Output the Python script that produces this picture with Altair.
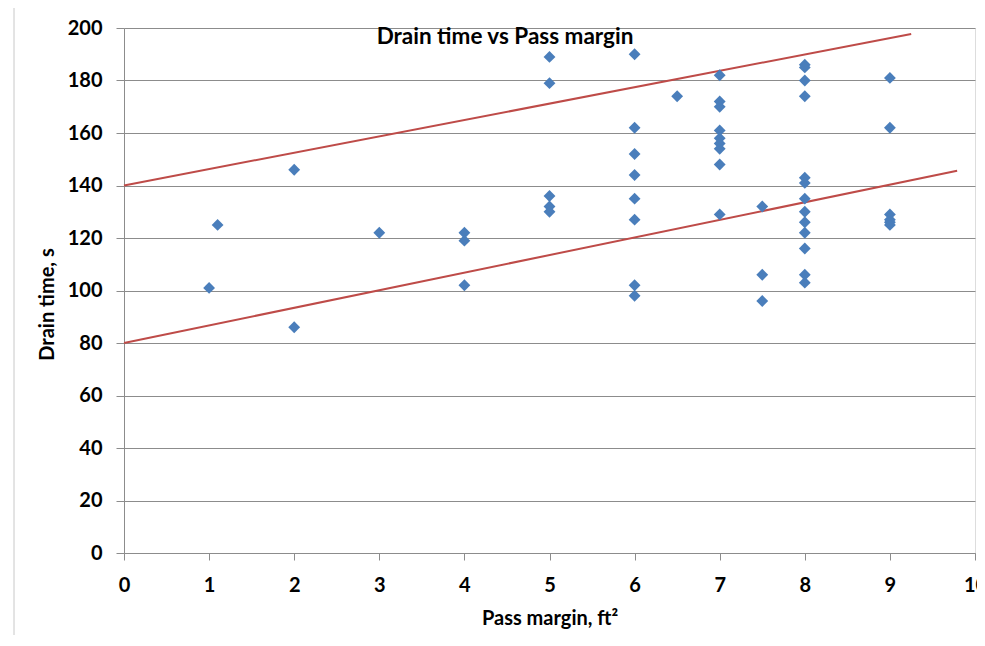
import altair as alt
import pandas as pd

pass_margin = [1, 1.1, 2, 2, 3, 4, 4, 4,
               5, 5, 5, 5, 5,
               6, 6, 6, 6, 6, 6, 6, 6,
               6.5,
               7, 7, 7, 7, 7, 7, 7, 7, 7,
               7.5, 7.5, 7.5,
               8, 8, 8, 8, 8, 8, 8, 8, 8, 8, 8, 8, 8,
               9, 9, 9, 9, 9, 9]
drain_time = [101, 125, 146, 86, 122, 122, 119, 102,
              189, 179, 136, 132, 130,
              190, 162, 152, 144, 135, 127, 102, 98,
              174,
              182, 172, 170, 161, 158, 156, 154, 148, 129,
              132, 106, 96,
              186, 185, 180, 174, 143, 141, 135, 130, 126, 122, 116, 106, 103,
              181, 162, 129, 127, 126, 125]

line_x = [0, 9.25, 0, 9.79]
line_y = [140, 197.7, 80, 145.6]
line_id = ["upper", "upper", "lower", "lower"]

chart_title = "Drain time vs Pass margin"

pts = pd.DataFrame({"x": pass_margin, "y": drain_time})
lines = pd.DataFrame({"x": line_x, "y": line_y, "g": line_id})

FONT = "Lato"
GRAY = "#8c8c8c"

xscale = alt.Scale(domain=[0, 10], nice=False, zero=True)
yscale = alt.Scale(domain=[0, 200], nice=False)

xaxis = alt.Axis(values=list(range(0, 11)), grid=False, title="Pass margin, ft²",
                 format="d", labelFlush=False, labelOverlap=False,
                 tickSize=7, labelPadding=15, titlePadding=13,
                 domainColor=GRAY, tickColor=GRAY,
                 labelFont=FONT, titleFont=FONT,
                 labelFontWeight="bold", titleFontWeight="bold",
                 labelFontSize=20, titleFontSize=20,
                 labelColor="#000000", titleColor="#000000")
yaxis = alt.Axis(values=list(range(0, 201, 20)), grid=True, title="Drain time, s",
                 tickSize=8, labelPadding=14, labelFlush=False,
                 gridColor=GRAY, gridOpacity=1, domainColor=GRAY, tickColor=GRAY,
                 labelFont=FONT, titleFont=FONT,
                 labelFontWeight="bold", titleFontWeight="bold",
                 labelFontSize=20, titleFontSize=20,
                 labelColor="#000000", titleColor="#000000",
                 titleX=-77, titleY=276, titleBaseline="middle")

points = alt.Chart(pts).mark_point(shape="diamond", filled=True, size=140,
                                   color="#4a7ebb", opacity=1).encode(
    x=alt.X("x:Q", scale=xscale, axis=xaxis),
    y=alt.Y("y:Q", scale=yscale, axis=yaxis),
)

trend = alt.Chart(lines).mark_line(color="#be4b48", strokeWidth=2).encode(
    x=alt.X("x:Q", scale=xscale),
    y=alt.Y("y:Q", scale=yscale),
    detail="g:N",
)

border = alt.Chart(pd.DataFrame({"a": [0]})).mark_rect(
    fill=None, stroke="#c8c8c8", strokeWidth=1, clip=False).encode(
    x=alt.value(-110), x2=alt.value(900), y=alt.value(-21), y2=alt.value(640))

title_txt = alt.Chart(pd.DataFrame({"t": [chart_title]})).mark_text(
    font=FONT, fontWeight="bold", fontSize=22.5, color="#000000",
    align="center", baseline="middle").encode(
    text="t:N", x=alt.value(381), y=alt.value(9))

chart = alt.layer(border, trend, points, title_txt).properties(
    width=851, height=525,
    autosize=alt.AutoSizeParams(type="none"),
    padding={"left": 116, "top": 20, "right": 2, "bottom": 82},
).configure_view(stroke=None).configure_axis(
    domainColor=GRAY, tickColor=GRAY, gridColor=GRAY,
    gridWidth=1, domainWidth=1,
).configure(background="white")

chart.save("out.html", embed_options={"renderer": "svg", "actions": False})
